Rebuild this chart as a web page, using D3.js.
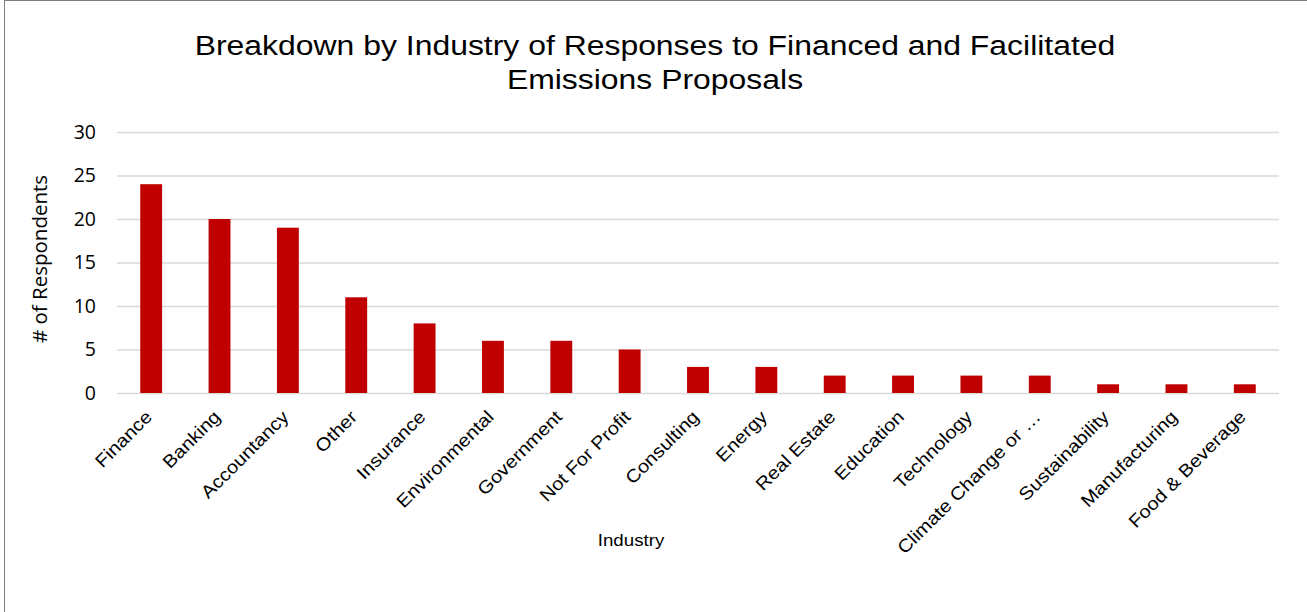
<!DOCTYPE html>
<html>
<head>
<meta charset="utf-8">
<script src="https://cdn.jsdelivr.net/npm/d3@7"></script>
<style>
  body { margin: 0; background: #fff; }
</style>
</head>
<body>
<svg id="chart" width="1307" height="612"></svg>
<script>
// data
var industries = ["Finance", "Banking", "Accountancy", "Other", "Insurance", "Environmental",
    "Government", "Not For Profit", "Consulting", "Energy", "Real Estate", "Education",
    "Technology", "Climate Change or \u2026", "Sustainability", "Manufacturing", "Food & Beverage"];
var respondents = [24, 20, 19, 11, 8, 6, 6, 5, 3, 3, 2, 2, 2, 2, 1, 1, 1];
var yTicks = [0, 5, 10, 15, 20, 25, 30];
var titleLines = ["Breakdown by Industry of Responses to Financed and Facilitated", "Emissions Proposals"];

var svg = d3.select("#chart");

// outer frame
svg.append("rect")
    .attr("x", 4.5).attr("y", 0.5)
    .attr("width", 1320).attr("height", 640)
    .attr("fill", "none")
    .attr("stroke", "#7f7f7f")
    .attr("stroke-width", 1);

var plotLeft = 117, plotRight = 1279, plotTop = 132, plotBottom = 393;

var x = d3.scaleBand()
    .domain(industries)
    .range([plotLeft, plotRight])
    .paddingInner(0.68)
    .paddingOuter(0.34);

var y = d3.scaleLinear()
    .domain([0, 30])
    .range([plotBottom, plotTop]);

// gridlines
svg.append("g")
    .selectAll("line")
    .data(yTicks)
    .enter().append("line")
    .attr("x1", plotLeft)
    .attr("x2", plotRight)
    .attr("y1", function (d) { return y(d) + 0.5; })
    .attr("y2", function (d) { return y(d) + 0.5; })
    .attr("stroke", "#d9d9d9")
    .attr("stroke-width", 1.3);

// y axis labels
var yAxis = d3.axisLeft(y).tickValues(yTicks).tickSize(0).tickPadding(0);
var gy = svg.append("g")
    .attr("transform", "translate(96,0)")
    .call(yAxis);
gy.select(".domain").remove();
gy.selectAll("text")
    .attr("font-family", "'Open Sans', 'Noto Sans', sans-serif")
    .attr("font-size", "19.5px")
    .attr("fill", "#000");

// bars
svg.append("g")
    .selectAll("rect")
    .data(respondents)
    .enter().append("rect")
    .attr("x", function (d, i) { return x(industries[i]); })
    .attr("y", function (d) { return y(d); })
    .attr("width", x.bandwidth())
    .attr("height", function (d) { return y(0) - y(d); })
    .attr("fill", "#c00000");

// x axis labels, rotated
var xAxis = d3.axisBottom(x).tickSize(0).tickPadding(0);
var gx = svg.append("g")
    .attr("transform", "translate(0," + (plotBottom + 25) + ")")
    .call(xAxis);
gx.select(".domain").remove();
gx.selectAll("text")
    .attr("font-family", "'Liberation Sans', Arial, sans-serif")
    .attr("font-size", "18px")
    .attr("fill", "#000")
    .attr("text-anchor", "end")
    .attr("dy", "0")
    .attr("transform", "translate(2,0) rotate(-45) scale(1.12,1)");

// title
svg.append("text")
    .attr("transform", "translate(655,55) scale(1.14,1)")
    .attr("text-anchor", "middle")
    .attr("font-family", "'Liberation Sans', Arial, sans-serif")
    .attr("font-size", "28px")
    .selectAll("tspan")
    .data(titleLines)
    .enter().append("tspan")
    .attr("x", 0)
    .attr("dy", function (d, i) { return i === 0 ? 0 : 34; })
    .text(function (d) { return d; });

// axis titles
svg.append("text")
    .attr("transform", "translate(631,546) scale(1.1,1)")
    .attr("text-anchor", "middle")
    .attr("font-family", "'Liberation Sans', Arial, sans-serif")
    .attr("font-size", "17px")
    .text("Industry");

svg.append("text")
    .attr("transform", "translate(47,259) rotate(-90)")
    .attr("text-anchor", "middle")
    .attr("font-family", "'Open Sans', 'Noto Sans', sans-serif")
    .attr("font-size", "20.5px")
    .text("# of Respondents");
</script>
</body>
</html>
